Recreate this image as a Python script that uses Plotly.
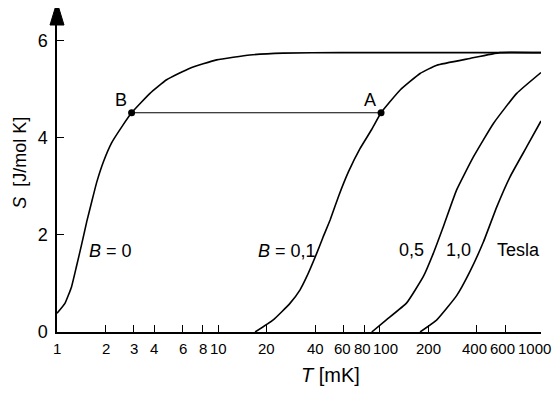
import math
import plotly.graph_objects as go

# ---- data ----
T_b0 = [1, 1.12, 1.23, 1.32, 1.42, 1.53, 1.64, 1.76, 1.94, 2.18, 2.52, 2.90, 3.77, 4.78, 6.67, 9.77, 15.7, 25.2, 56.9, 200, 1000]
S_b0 = [0.385, 0.59, 0.93, 1.35, 1.80, 2.28, 2.68, 3.08, 3.51, 3.90, 4.23, 4.52, 4.92, 5.20, 5.44, 5.61, 5.71, 5.75, 5.76, 5.76, 5.76]

T_b01 = [16.9, 21.9, 27.8, 32.1, 35.3, 40.7, 44.5, 49.3, 55.5, 64.0, 75.5, 89.4, 102, 134, 178, 226, 363, 557, 1000]
S_b01 = [0, 0.25, 0.59, 0.87, 1.14, 1.62, 1.95, 2.31, 2.79, 3.30, 3.78, 4.18, 4.52, 4.99, 5.33, 5.50, 5.64, 5.76, 5.76]

T_b05 = [89.3, 110, 147, 187, 215, 248, 300, 381, 507, 707, 1000]
S_b05 = [0, 0.25, 0.60, 1.15, 1.62, 2.17, 2.93, 3.61, 4.30, 4.92, 5.35]

T_b10 = [178, 226, 300, 363, 440, 532, 643, 816, 1000]
S_b10 = [0, 0.25, 0.75, 1.25, 1.86, 2.58, 3.20, 3.82, 4.35]

# process B -> A (isentropic line)
T_BA = [2.90, 102]
S_BA = [4.52, 4.52]
point_names = ["B", "A"]

x_tickvals = [1, 2, 3, 4, 6, 8, 10, 20, 40, 60, 80, 100, 200, 400, 600, 1000]
x_ticktext = [str(v) for v in x_tickvals]
y_tickvals = [0, 2, 4, 6]

curve_labels = ["<i>B</i> = 0", "<i>B</i> = 0,1", "0,5", "1,0", "Tesla"]
curve_label_T = [1.54, 41.5, 194, 379, 519]
curve_label_S = [1.67, 1.67, 1.70, 1.70, 1.70]
curve_label_anchor = ["left", "right", "right", "right", "left"]

# small horizontal nudges (pixels) for crowded x tick labels, as in the original
tick_label_nudge = {60: -1, 80: -2, 100: 6, 400: -2, 600: -3, 1000: -7}

FONT = "Liberation Sans, Arial, sans-serif"

fig = go.Figure()
for T, S in [(T_b0, S_b0), (T_b01, S_b01), (T_b05, S_b05), (T_b10, S_b10)]:
    fig.add_trace(go.Scatter(x=T, y=S, mode="lines",
                             line=dict(color="black", width=1.6, shape="spline", smoothing=0.4),
                             showlegend=False, hoverinfo="skip"))

fig.add_trace(go.Scatter(x=T_BA, y=S_BA, mode="lines+markers",
                         line=dict(color="black", width=1.2),
                         marker=dict(color="black", size=7),
                         showlegend=False, hoverinfo="skip"))

# labels for points B and A
for name, T, S in zip(point_names, T_BA, S_BA):
    fig.add_annotation(x=math.log10(T), y=S, text=name, showarrow=False,
                       xanchor="right", yanchor="bottom", xshift=-3, yshift=1,
                       font=dict(size=18, color="black", family=FONT))

for txt, T, S, anc in zip(curve_labels, curve_label_T, curve_label_S, curve_label_anchor):
    fig.add_annotation(x=math.log10(T), y=S, text=txt, showarrow=False,
                       xanchor=anc, yanchor="middle",
                       font=dict(size=18, color="black", family=FONT))

# x tick labels placed on the axis scale
for v, txt in zip(x_tickvals, x_ticktext):
    fig.add_annotation(x=math.log10(v), y=0, xref="x", yref="y", text=txt, showarrow=False,
                       xanchor="center", yanchor="top", yshift=-7,
                       xshift=tick_label_nudge.get(v, 0), borderpad=0,
                       font=dict(size=15, color="black", family=FONT))

# axis titles
fig.add_annotation(xref="paper", yref="paper", x=-0.078, y=0.55, text="<i>S</i>  [J/mol K]",
                   textangle=-90, showarrow=False, xanchor="center", yanchor="middle",
                   font=dict(size=18, color="black", family=FONT))
fig.add_annotation(xref="paper", yref="paper", x=0.566, y=-0.138, text="<i>T</i> [mK]",
                   showarrow=False, xanchor="center", yanchor="middle",
                   font=dict(size=20, color="black", family=FONT))

# arrow head on y-axis
fig.add_shape(type="path", xref="paper", yref="paper", xsizemode="pixel", ysizemode="pixel",
              xanchor=0, yanchor=1, path="M -7,-1 L 7,-1 L 0,22 Z",
              fillcolor="black", line=dict(color="black", width=1))

fig.update_xaxes(type="log", range=[0, 3], tickvals=x_tickvals, showticklabels=False,
                 showgrid=False, zeroline=False, showline=True, linecolor="black", linewidth=1.5,
                 ticks="inside", ticklen=7, tickcolor="black", tickwidth=1.2)
fig.update_yaxes(range=[0, 6.35], tickvals=y_tickvals,
                 showgrid=False, zeroline=False, showline=True, linecolor="black", linewidth=1.5,
                 ticks="inside", ticklen=7, tickcolor="black", tickwidth=1.2,
                 ticklabelstandoff=4,
                 tickfont=dict(size=18, color="black", family=FONT))

# page body has an 8px default margin -> figure is 8px smaller than the window
fig.update_layout(width=552, height=386, margin=dict(l=49, r=19, t=16, b=62),
                  plot_bgcolor="white", paper_bgcolor="white")

fig.write_html("out.html")
